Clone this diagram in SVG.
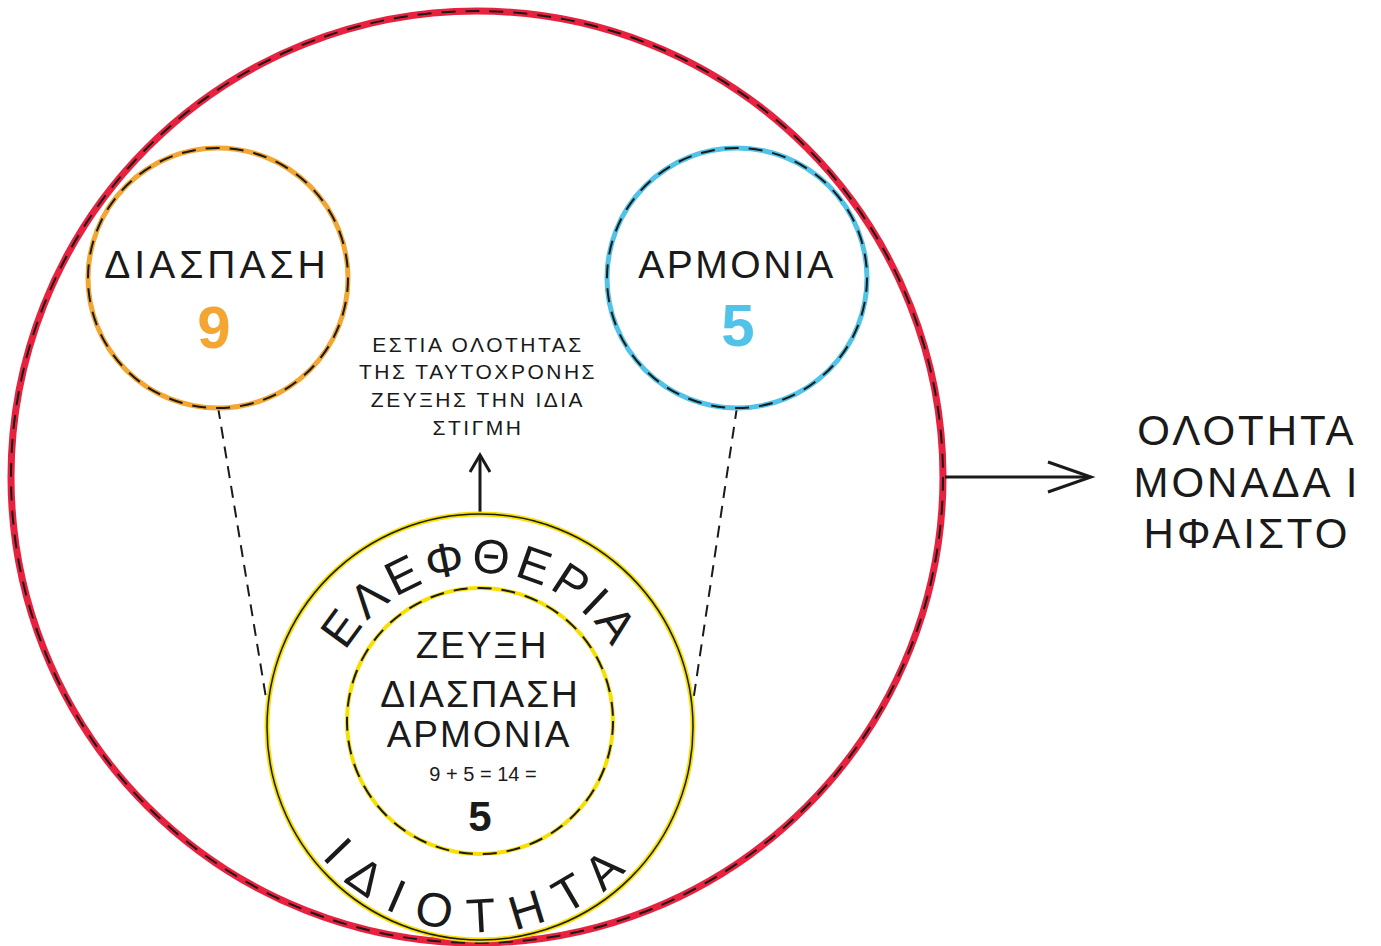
<svg xmlns="http://www.w3.org/2000/svg" width="1381" height="946" viewBox="0 0 1381 946">
<style>
text{font-family:"Liberation Sans","DejaVu Sans",sans-serif;fill:#1a1a1a;text-anchor:middle}
.dash{fill:none;stroke:#1a1a1a;stroke-width:2;stroke-dasharray:14 10}
.lbl{font-size:39px}
.ctr{font-size:37px;letter-spacing:2px}
.mid{font-size:21px;letter-spacing:2.5px}
.big{font-size:42px;letter-spacing:3px}
.arc{font-size:48px}
.conn{fill:none;stroke:#1a1a1a;stroke-width:3}
</style>
<rect width="1381" height="946" fill="#ffffff"/>
<defs>
<path id="topArc" d="M 326 727 A 154 154 0 0 1 634 727"/>
<path id="botArc" d="M 275 727 A 205 205 0 0 0 685 727"/>
</defs>

<g id="wholeness">
<circle cx="477" cy="477" r="466" fill="none" stroke="#E8213F" stroke-width="7"/>
<circle cx="477" cy="477" r="466" class="dash" stroke-width="2.5"/>
</g>

<g id="connectors">
<line x1="218" y1="407" x2="268" y2="710" stroke="#1a1a1a" stroke-width="2" stroke-dasharray="12 8"/>
<line x1="737" y1="407" x2="693" y2="702" stroke="#1a1a1a" stroke-width="2" stroke-dasharray="12 8"/>
<line x1="480" y1="513" x2="480" y2="455" class="conn" stroke-width="2.5"/>
<polyline points="470,472 480,455 490,472" class="conn" stroke-width="2.5"/>
<line x1="945" y1="477" x2="1090" y2="477" class="conn" stroke-width="3.5"/>
<polyline points="1048,462 1091,477 1048,492" class="conn" stroke-width="3.5"/>
</g>

<g id="diaspasi">
<circle cx="218" cy="278" r="130" fill="none" stroke="#F3A631" stroke-width="5"/>
<circle cx="218" cy="278" r="130" class="dash"/>
<text x="217" y="278" class="lbl" letter-spacing="4">ΔΙΑΣΠΑΣΗ</text>
<text x="214" y="348" font-size="60" font-weight="bold" style="fill:#F3A631">9</text>
</g>

<g id="armonia">
<circle cx="737" cy="278" r="130" fill="none" stroke="#52C3E8" stroke-width="5"/>
<circle cx="737" cy="278" r="130" class="dash"/>
<text x="737" y="278" class="lbl" letter-spacing="2.5">ΑΡΜΟΝΙΑ</text>
<text x="738" y="346" font-size="60" font-weight="bold" style="fill:#52C3E8">5</text>
</g>

<g id="estia">
<text x="478" y="352" class="mid">ΕΣΤΙΑ ΟΛΟΤΗΤΑΣ</text>
<text x="478" y="379" class="mid">ΤΗΣ ΤΑΥΤΟΧΡΟΝΗΣ</text>
<text x="478" y="407" class="mid">ΖΕΥΞΗΣ ΤΗΝ ΙΔΙΑ</text>
<text x="478" y="435" class="mid">ΣΤΙΓΜΗ</text>
</g>

<g id="eleftheria">
<circle cx="480" cy="727" r="213" fill="none" stroke="#F7E000" stroke-width="5"/>
<circle cx="480" cy="727" r="213" fill="none" stroke="#1a1a1a" stroke-width="1.5"/>
<text class="arc" letter-spacing="5"><textPath href="#topArc" startOffset="50%">ΕΛΕΦΘΕΡΙΑ</textPath></text>
<text class="arc" letter-spacing="18"><textPath href="#botArc" startOffset="50%">ΙΔΙΟΤΗΤΑ</textPath></text>
</g>

<g id="zeuxi">
<circle cx="480" cy="721" r="133" fill="none" stroke="#F7E000" stroke-width="4"/>
<circle cx="480" cy="721" r="133" class="dash" stroke-width="1.8"/>
<text x="482" y="658" class="ctr">ΖΕΥΞΗ</text>
<text x="480" y="707" class="ctr" letter-spacing="1.5">ΔΙΑΣΠΑΣΗ</text>
<text x="479" y="747" class="ctr">ΑΡΜΟΝΙΑ</text>
<text x="483" y="781" font-size="20">9 + 5 = 14 =</text>
<text x="480" y="831" font-size="42" font-weight="bold">5</text>
</g>

<g id="olotita">
<text x="1247" y="445" class="big">ΟΛΟΤΗΤΑ</text>
<text x="1247" y="497" class="big">ΜΟΝΑΔΑ Ι</text>
<text x="1247" y="548" class="big">ΗΦΑΙΣΤΟ</text>
</g>
</svg>
